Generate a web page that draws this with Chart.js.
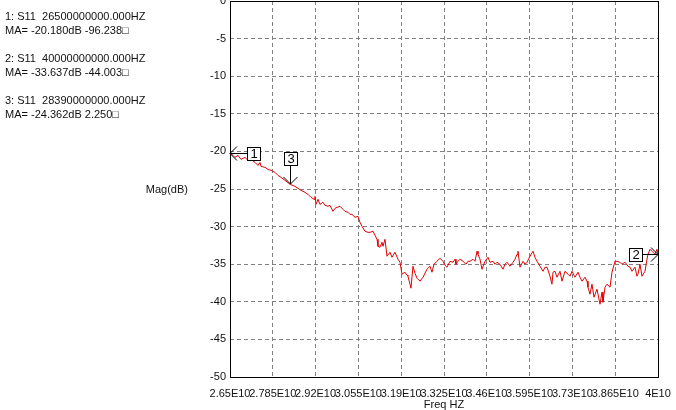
<!DOCTYPE html>
<html>
<head>
<meta charset="utf-8">
<script src="https://cdn.jsdelivr.net/npm/chart.js@4/dist/chart.umd.min.js"></script>
<style>
  html, body { margin: 0; padding: 0; background: #fff; }
  #wrap { position: relative; width: 676px; height: 410px; background: #fff; overflow: hidden; }
  #c { position: absolute; left: 0; top: 0; }
  .txt { position: absolute; font-family: "Liberation Sans", Arial, sans-serif; font-size: 11px; line-height: 14px; color: #111; white-space: pre; }
</style>
</head>
<body>
<div id="wrap">
  <canvas id="c" width="676" height="410"></canvas>
</div>
<script>
// ---- data ----
const freqHz = [
  2.6500e10, 2.6595e10, 2.6658e10, 2.6752e10, 2.6847e10, 2.6973e10, 2.7068e10, 2.7162e10, 2.7289e10, 2.7383e10,
  2.7446e10, 2.7478e10, 2.7604e10, 2.7699e10, 2.7793e10, 2.7919e10, 2.8014e10, 2.8109e10, 2.8235e10, 2.8390e10,
  2.8550e10, 2.8645e10, 2.8739e10, 2.8865e10, 2.8960e10, 2.9055e10, 2.9150e10, 2.9181e10, 2.9213e10, 2.9276e10,
  2.9339e10, 2.9433e10, 2.9496e10, 2.9591e10, 2.9654e10, 2.9749e10, 2.9812e10, 2.9875e10, 2.9970e10, 3.0064e10,
  3.0127e10, 3.0222e10, 3.0285e10, 3.0348e10, 3.0443e10, 3.0537e10, 3.0600e10, 3.0664e10, 3.0758e10, 3.0853e10,
  3.0916e10, 3.1011e10, 3.1074e10, 3.1137e10, 3.1168e10, 3.1231e10, 3.1294e10, 3.1326e10, 3.1389e10, 3.1452e10,
  3.1547e10, 3.1610e10, 3.1704e10, 3.1799e10, 3.1862e10, 3.1925e10, 3.2020e10, 3.2083e10, 3.2114e10, 3.2209e10,
  3.2272e10, 3.2335e10, 3.2398e10, 3.2493e10, 3.2588e10, 3.2714e10, 3.2808e10, 3.2871e10, 3.2935e10, 3.3029e10,
  3.3124e10, 3.3218e10, 3.3282e10, 3.3345e10, 3.3439e10, 3.3534e10, 3.3597e10, 3.3628e10, 3.3692e10, 3.3755e10,
  3.3849e10, 3.3944e10, 3.4007e10, 3.4070e10, 3.4165e10, 3.4228e10, 3.4291e10, 3.4322e10, 3.4386e10, 3.4449e10,
  3.4543e10, 3.4638e10, 3.4701e10, 3.4796e10, 3.4859e10, 3.4922e10, 3.5016e10, 3.5111e10, 3.5174e10, 3.5237e10,
  3.5332e10, 3.5426e10, 3.5489e10, 3.5553e10, 3.5584e10, 3.5647e10, 3.5742e10, 3.5805e10, 3.5868e10, 3.5963e10,
  3.6057e10, 3.6120e10, 3.6183e10, 3.6278e10, 3.6373e10, 3.6436e10, 3.6499e10, 3.6593e10, 3.6656e10, 3.6688e10,
  3.6751e10, 3.6814e10, 3.6909e10, 3.6972e10, 3.7067e10, 3.7161e10, 3.7224e10, 3.7287e10, 3.7382e10, 3.7477e10,
  3.7540e10, 3.7603e10, 3.7697e10, 3.7761e10, 3.7792e10, 3.7855e10, 3.7918e10, 3.7981e10, 3.8076e10, 3.8171e10,
  3.8234e10, 3.8265e10, 3.8328e10, 3.8391e10, 3.8486e10, 3.8549e10, 3.8644e10, 3.8707e10, 3.8801e10, 3.8864e10,
  3.8959e10, 3.9054e10, 3.9117e10, 3.9180e10, 3.9274e10, 3.9337e10, 3.9369e10, 3.9432e10, 3.9495e10, 3.9590e10,
  3.9653e10, 3.9684e10, 3.9747e10, 3.9810e10, 3.9905e10, 3.9968e10, 4.0000e10
];
const magDb = [
  -20.18, -20.53, -20.80, -20.53, -21.06, -20.80, -21.19, -21.06, -21.46, -21.86,
  -21.46, -21.99, -22.12, -22.39, -22.52, -22.79, -23.19, -23.45, -23.85, -24.36,
  -24.65, -24.91, -25.18, -25.44, -25.71, -26.11, -26.37, -25.98, -27.04, -26.37,
  -27.04, -26.77, -27.17, -27.30, -27.17, -27.97, -27.57, -27.44, -27.30, -27.70,
  -27.97, -28.10, -28.37, -28.37, -28.76, -28.63, -29.43, -29.96, -30.62, -30.76,
  -30.76, -30.62, -31.15, -31.69, -32.62, -32.75, -32.08, -32.62, -31.69, -33.94,
  -33.41, -34.08, -33.41, -34.34, -34.74, -36.33, -36.07, -36.47, -36.60, -38.19,
  -35.27, -36.20, -36.86, -37.26, -36.73, -35.67, -35.27, -36.07, -35.01, -34.61,
  -34.21, -34.61, -35.14, -35.40, -34.61, -34.74, -34.34, -35.01, -34.61, -34.34,
  -34.61, -35.01, -34.61, -34.61, -34.34, -34.61, -33.28, -33.68, -34.34, -35.67,
  -34.61, -34.08, -34.74, -34.61, -35.01, -34.74, -35.01, -35.67, -35.01, -34.74,
  -35.27, -34.74, -34.34, -33.68, -33.28, -35.40, -34.61, -35.01, -34.74, -33.94,
  -33.28, -34.08, -34.61, -35.27, -35.94, -35.40, -35.40, -36.60, -37.66, -36.07,
  -35.94, -36.73, -35.94, -37.26, -35.94, -36.33, -36.60, -35.94, -36.73, -36.07,
  -36.73, -37.26, -36.73, -37.26, -38.06, -38.99, -37.66, -39.39, -38.33, -40.32,
  -38.72, -40.05, -38.06, -37.66, -38.06, -36.07, -34.61, -34.61, -34.74, -35.01,
  -34.74, -35.27, -35.40, -35.94, -35.40, -36.60, -36.33, -35.01, -36.60, -35.94,
  -34.34, -33.68, -33.01, -33.28, -33.68, -33.01, -33.637
];
const xTickValues = [2.65e10, 2.785e10, 2.92e10, 3.055e10, 3.19e10, 3.325e10, 3.46e10, 3.595e10, 3.73e10, 3.865e10, 4e10];
const xTickLabels = ['2.65E10', '2.785E10', '2.92E10', '3.055E10', '3.19E10', '3.325E10', '3.46E10', '3.595E10', '3.73E10', '3.865E10', '4E10'];
const markerLabels = ['1', '2', '3'];
const markerFreqHz = [2.65e10, 4e10, 2.839e10];
const markerMagDb = [-20.180, -33.637, -24.362];
const markerPhaseDeg = [-96.238, -44.003, 2.250];
const markerParam = ['S11', 'S11', 'S11'];

// ---- text block on the left ----
const FONT = '"Liberation Sans", Arial, sans-serif';
const wrap = document.getElementById('wrap');
function addText(txt, left, top, extra) {
  const d = document.createElement('div');
  d.className = 'txt';
  d.textContent = txt;
  d.style.left = left + 'px';
  d.style.top = top + 'px';
  if (extra) Object.assign(d.style, extra);
  wrap.appendChild(d);
  return d;
}
const infoTops = [9, 51, 93];
markerLabels.forEach((lab, i) => {
  addText(lab + ': ' + markerParam[i] + '  ' + markerFreqHz[i].toFixed(3) + 'HZ', 5, infoTops[i]);
  addText('MA= ' + markerMagDb[i].toFixed(3) + 'dB ' + markerPhaseDeg[i].toFixed(3) + '\u25A1', 5, infoTops[i] + 14);
});
addText('Mag(dB)', 0, 182, { left: 'auto', right: (676 - 188) + 'px' });

// ---- plugins ----
const framePlugin = {
  id: 'frame',
  afterDraw(chart) {
    const a = chart.chartArea, ctx = chart.ctx;
    ctx.save();
    ctx.strokeStyle = '#000';
    ctx.lineWidth = 1;
    ctx.strokeRect(Math.round(a.left) + 0.5, Math.round(a.top) + 0.5, Math.round(a.right - a.left), Math.round(a.bottom - a.top));
    ctx.restore();
  }
};
const markerDirs = ['left', 'right', 'down'];
const markerPlugin = {
  id: 'markers',
  afterDraw(chart) {
    const xs = chart.scales.x, ys = chart.scales.y, ctx = chart.ctx;
    ctx.save();
    ctx.strokeStyle = '#000';
    ctx.lineWidth = 1;
    ctx.font = '13px ' + FONT;
    ctx.textAlign = 'center';
    ctx.textBaseline = 'middle';
    markerLabels.forEach((lab, i) => {
      const px = Math.round(xs.getPixelForValue(markerFreqHz[i]));
      const py = Math.round(ys.getPixelForValue(markerMagDb[i]));
      const dir = markerDirs[i];
      const bw = 13, bh = 13;
      let bx, by;
      ctx.beginPath();
      if (dir === 'left') {
        bx = px + 17; by = py - 6;
        ctx.moveTo(bx, py + 0.5); ctx.lineTo(px, py + 0.5);
        ctx.moveTo(px + 7, py - 6.5); ctx.lineTo(px, py + 0.5); ctx.lineTo(px + 7, py + 7.5);
      } else if (dir === 'right') {
        bx = px - 29; by = py - 6;
        ctx.moveTo(bx + bw, py + 0.5); ctx.lineTo(px, py + 0.5);
        ctx.moveTo(px - 7, py - 6.5); ctx.lineTo(px, py + 0.5); ctx.lineTo(px - 7, py + 7.5);
      } else {
        bx = px - 6; by = py - 32;
        ctx.moveTo(px + 0.5, by + bh); ctx.lineTo(px + 0.5, py);
        ctx.moveTo(px - 6.5, py - 7); ctx.lineTo(px + 0.5, py); ctx.lineTo(px + 7.5, py - 7);
      }
      ctx.stroke();
      ctx.fillStyle = '#fff';
      ctx.fillRect(bx, by, bw, bh);
      ctx.strokeRect(bx + 0.5, by + 0.5, bw, bh);
      ctx.fillStyle = '#000';
      ctx.fillText(lab, bx + bw / 2 + 0.5, by + bh / 2 + 1);
    });
    ctx.restore();
  }
};

new Chart(document.getElementById('c'), {
  type: 'line',
  data: {
    datasets: [{
      data: freqHz.map((f, i) => ({ x: f, y: magDb[i] })),
      borderColor: '#e00000',
      borderWidth: 1,
      pointRadius: 0,
      tension: 0,
      fill: false
    }]
  },
  options: {
    responsive: false,
    animation: false,
    events: [],
    layout: { padding: { top: 1, right: 18, left: 0, bottom: 0 } },
    plugins: { legend: { display: false }, tooltip: { enabled: false } },
    scales: {
      x: {
        type: 'linear',
        min: 2.65e10,
        max: 4e10,
        afterBuildTicks(s) { s.ticks = xTickValues.map(v => ({ value: v })); },
        afterFit(s) { s.height = 33; s.paddingLeft = 0; s.paddingRight = 0; },
        ticks: {
          autoSkip: false, maxRotation: 0, minRotation: 0, padding: 10,
          color: '#111', font: { family: FONT, size: 11 },
          callback: (v, i) => xTickLabels[i]
        },
        grid: { color: '#808080', lineWidth: 1, drawTicks: false },
        border: { display: false, dash: [4, 3] },
        title: { display: true, text: 'Freq HZ', color: '#111', font: { family: FONT, size: 11 }, padding: { top: 0, bottom: -2 } }
      },
      y: {
        min: -50,
        max: 0,
        afterFit(s) { s.width = 230; s.paddingTop = 0; s.paddingBottom = 0; },
        ticks: { stepSize: 5, padding: 4, color: '#111', font: { family: FONT, size: 11 } },
        grid: { color: '#808080', lineWidth: 1, drawTicks: false },
        border: { display: false, dash: [4, 3] }
      }
    }
  },
  plugins: [framePlugin, markerPlugin]
});
</script>
</body>
</html>
